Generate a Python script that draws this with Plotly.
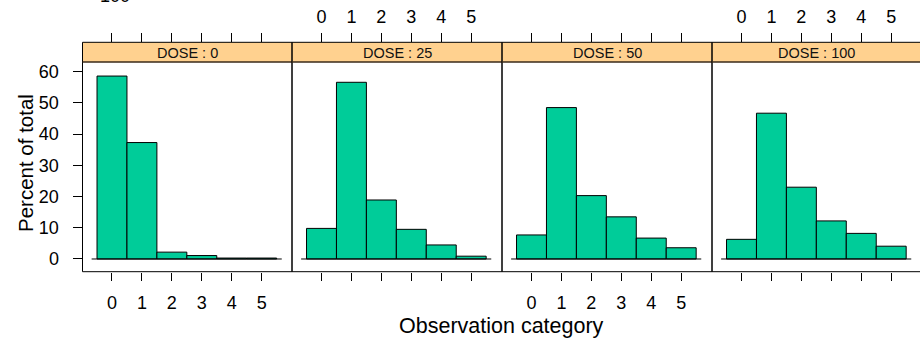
import plotly.graph_objects as go

# ---- data ----
categories = [0, 1, 2, 3, 4, 5]
dose_labels = ["DOSE : 0", "DOSE : 25", "DOSE : 50", "DOSE : 100"]
pct_dose0 = [58.6, 37.3, 2.2, 1.1, 0.3, 0.3]
pct_dose25 = [9.8, 56.6, 18.9, 9.5, 4.5, 0.9]
pct_dose50 = [7.7, 48.5, 20.3, 13.5, 6.7, 3.6]
pct_dose100 = [6.3, 46.7, 23.0, 12.2, 8.2, 4.1]
y_ticks = [0, 10, 20, 30, 40, 50, 60]
series = [pct_dose0, pct_dose25, pct_dose50, pct_dose100]

W, H = 920, 343
FONT = "Liberation Sans, Arial, sans-serif"
BAR = "#00CC99"
STRIP = "#FFD18F"

def fx(p):
    return p / W

def fy(p):
    return 1 - p / H

lefts = [82.5, 292, 502, 712]
rights = [292, 502, 712, 920]
top_px, bot_px = 62, 271.7
strip_top = 42.3
px_per_unit = 29.94
xmin = -0.985
yrange = [-4.07, 63.1]

fig = go.Figure()
layout = dict(
    width=W, height=H, margin=dict(l=0, r=0, t=0, b=0),
    paper_bgcolor="white", plot_bgcolor="white", showlegend=False,
    font=dict(family=FONT, color="black", size=18),
)
shapes = []
annotations = []

for i in range(4):
    n = i + 1
    xa = "x" if n == 1 else f"x{n}"
    ya = "y" if n == 1 else f"y{n}"
    fig.add_trace(go.Bar(
        x=categories, y=series[i], width=1, xaxis=xa, yaxis=ya,
        marker=dict(color=BAR, line=dict(color="black", width=1)),
        hoverinfo="x+y",
    ))
    fig.add_trace(go.Scatter(
        x=[categories[0] - 0.68, categories[-1] + 0.67], y=[0, 0], mode="lines",
        line=dict(color="black", width=1), xaxis=xa, yaxis=ya, hoverinfo="skip",
    ))
    width_px = rights[i] - lefts[i]
    xr = [xmin, xmin + width_px / px_per_unit]
    dom = [fx(lefts[i]), fx(rights[i])]
    layout["xaxis" if n == 1 else f"xaxis{n}"] = dict(
        domain=dom, range=xr, anchor=ya, showgrid=False, zeroline=False,
        showline=False, ticks="outside", ticklen=8, tickwidth=1, tickcolor="black",
        tickvals=categories, ticktext=[str(c) for c in categories],
        showticklabels=(i % 2 == 0), tickfont=dict(size=18, family=FONT),
        ticklabelstandoff=7, fixedrange=True,
    )
    layout[f"xaxis{n + 4}"] = dict(
        overlaying=xa, anchor="free", position=fy(strip_top), side="top",
        range=xr, showgrid=False, zeroline=False, showline=False,
        ticks="outside", ticklen=9, tickwidth=1, tickcolor="black",
        tickvals=categories, ticktext=[str(c) for c in categories],
        showticklabels=(i % 2 == 1), tickfont=dict(size=18, family=FONT),
        ticklabelstandoff=3, fixedrange=True,
    )
    fig.add_trace(go.Scatter(x=[categories[0]], y=[0], mode="markers",
                             marker=dict(opacity=0), xaxis=f"x{n + 4}", yaxis=ya,
                             hoverinfo="skip"))
    layout["yaxis" if n == 1 else f"yaxis{n}"] = dict(
        domain=[fy(bot_px), fy(top_px)], range=yrange, anchor=xa,
        showgrid=False, zeroline=False, showline=False,
        ticks="outside" if n == 1 else "", ticklen=9, tickwidth=1, tickcolor="black",
        tickvals=y_ticks, showticklabels=(n == 1),
        tickfont=dict(size=18, family=FONT), ticklabelstandoff=10, fixedrange=True,
    )
    # panel border
    L, R = fx(lefts[i]), fx(rights[i])
    T, B = fy(top_px), fy(bot_px)
    line = dict(color="black", width=1)
    shapes.append(dict(type="line", xref="paper", yref="paper", x0=L, x1=L, y0=B, y1=fy(strip_top), line=line))
    shapes.append(dict(type="line", xref="paper", yref="paper", x0=L, x1=R, y0=B, y1=B, line=line))
    if i < 3:
        shapes.append(dict(type="line", xref="paper", yref="paper", x0=R, x1=R, y0=B, y1=fy(strip_top), line=line))
    # strip
    shapes.append(dict(type="rect", xref="paper", yref="paper", x0=L, x1=R,
                       y0=T, y1=fy(strip_top), fillcolor=STRIP, line=dict(width=0), layer="below"))
    shapes.append(dict(type="line", xref="paper", yref="paper", x0=L, x1=R, y0=fy(strip_top), y1=fy(strip_top), line=line))
    shapes.append(dict(type="line", xref="paper", yref="paper", x0=L, x1=R, y0=T, y1=T, line=dict(color="#3a2a1a", width=1.5)))
    annotations.append(dict(text=dose_labels[i], xref="paper", yref="paper",
                            x=(L + R) / 2, y=fy((strip_top + top_px) / 2 + 0.5),
                            xanchor="center", yanchor="middle", showarrow=False,
                            font=dict(size=14.5, family=FONT, color="#111111")))

annotations.append(dict(text="Observation category", xref="paper", yref="paper",
                        x=fx(502), y=fy(326), xanchor="center", yanchor="middle",
                        showarrow=False, font=dict(size=21.5, family=FONT)))
annotations.append(dict(text="Percent of total", xref="paper", yref="paper",
                        x=fx(25), y=fy(163), xanchor="center", yanchor="middle",
                        textangle=-90, showarrow=False, font=dict(size=20.5, family=FONT)))
annotations.append(dict(text="100", xref="paper", yref="paper",
                        x=fx(115), y=fy(-4), xanchor="center", yanchor="middle",
                        showarrow=False, font=dict(size=18, family=FONT)))

layout["shapes"] = shapes
layout["annotations"] = annotations
fig.update_layout(**layout)
fig.write_html("out.html")
